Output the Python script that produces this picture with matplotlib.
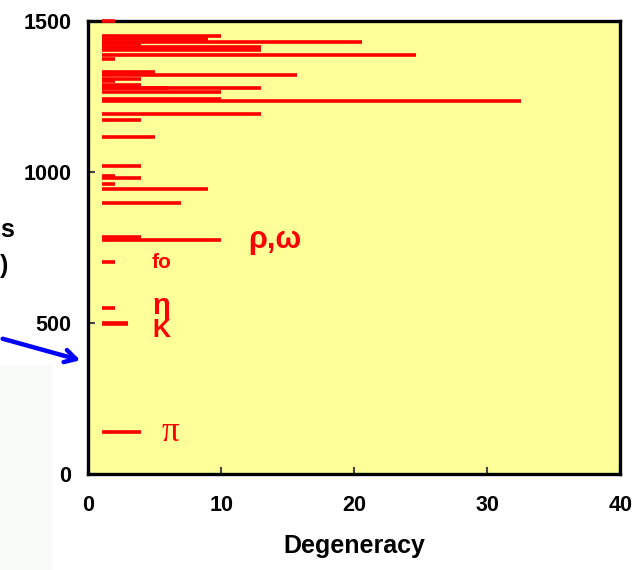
import matplotlib
matplotlib.use('Agg')
import matplotlib.pyplot as plt
from matplotlib.patches import Rectangle

# hadron masses (MeV) and their degeneracy; each line is drawn from x=1 to x=1+degeneracy
masses = [139, 494, 498, 549, 700, 775, 783, 897, 943, 958, 980, 985, 1020,
          1114, 1171, 1190, 1233, 1240, 1262, 1276, 1278, 1288, 1300, 1305,
          1320, 1328, 1371, 1387, 1402, 1412, 1421, 1430, 1440, 1450, 1499]
degeneracy = [3, 2, 2, 1, 1, 9, 3, 6, 8, 1, 3, 1, 3,
              4, 3, 12, 31.5, 9, 9, 12, 5, 3, 1, 3,
              14.7, 4, 1, 23.6, 12, 12, 3, 19.6, 8, 9, 1]

names = ['\u03c1,\u03c9', 'fo', '\u03b7', 'K', '\u03c0']
name_x = [12.0, 4.8, 4.8, 4.8, 5.5]
name_y = [775, 700, 556, 474, 137]
name_size = [22, 15, 21, 18, 25]

fig = plt.figure(figsize=(6.35, 5.7), dpi=100)
fig.patch.set_facecolor('white')

# faint panel at the lower left edge
fig.patches.append(Rectangle((0, 0), 0.082, 0.36, transform=fig.transFigure,
                             facecolor='#f9fbf9', edgecolor='none', zorder=-5))

ax = fig.add_axes([0.139, 0.169, 0.838, 0.795])
ax.set_facecolor('#ffff99')

ends = [1 + d for d in degeneracy]
ax.hlines(masses, 1, ends, color='red', linewidth=2.6, capstyle='butt', zorder=3, clip_on=False)

ax.set_xlim(0, 40)
ax.set_ylim(0, 1500)
ax.set_xticks([0, 10, 20, 30, 40])
ax.set_yticks([0, 500, 1000, 1500])

for s in ax.spines.values():
    s.set_linewidth(2.4)
    s.set_color('black')
ax.tick_params(direction='in', length=5, width=1.5, color='#444444')
ax.tick_params(axis='x', pad=15)
ax.tick_params(axis='y', pad=12)
for lab in ax.get_xticklabels() + ax.get_yticklabels():
    lab.set_fontfamily('Liberation Sans')
    lab.set_fontweight('bold')
    lab.set_fontsize(15.5)

ax.set_xlabel('Degeneracy', fontfamily='Liberation Sans', fontweight='bold',
              fontsize=18, labelpad=13)

for n, x, y, fs in zip(names, name_x, name_y, name_size):
    fam = 'Liberation Serif' if n == '\u03c0' else 'Liberation Sans'
    wt = 'normal' if n == '\u03c0' else 'bold'
    ax.text(x, y, n, color='red', fontsize=fs, fontweight=wt, family=fam,
            va='center', ha='left')

# cut-off axis title remnants at the left edge
fig.text(0.0, 1 - 230 / 570, 's', fontsize=18, fontweight='bold',
         family='Liberation Sans', ha='left', va='center')
fig.text(0.0, 1 - 266 / 570, ')', fontsize=18, fontweight='bold',
         family='Liberation Sans', ha='left', va='center')

# blue arrow pointing into the plot
ax.annotate('', xy=(83 / 635, 1 - 361 / 570), xytext=(0, 1 - 338 / 570),
            xycoords='figure fraction', textcoords='figure fraction',
            arrowprops=dict(arrowstyle='->,head_length=0.8,head_width=0.45',
                            color='#0000ff', lw=3.2), annotation_clip=False)

fig.savefig('out.png', dpi=100)
